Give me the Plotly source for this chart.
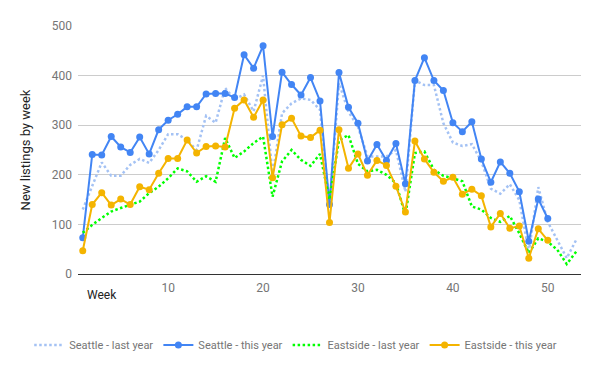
import plotly.graph_objects as go

weeks_last = list(range(1, 54))
weeks_this = list(range(1, 51))

seattle_last = [130, 176, 225, 198, 198, 220, 232, 224, 250, 282,
                282, 270, 250, 319, 305, 375, 352, 362, 328, 400,
                200, 324, 344, 354, 351, 331, 136, 385, 327, 297,
                237, 237, 237, 250, 166, 390, 381, 381, 304, 265,
                258, 262, 227, 172, 162, 181, 149, 45, 175, 105,
                69, 32, 69]

seattle_this = [73, 241, 240, 277, 256, 245, 276, 242, 291, 310,
                322, 337, 337, 363, 364, 364, 356, 442, 415, 460,
                277, 407, 382, 361, 396, 349, 140, 406, 336, 304,
                228, 261, 229, 263, 182, 390, 436, 390, 370, 305,
                287, 307, 232, 185, 226, 203, 166, 66, 151, 112]

eastside_last = [83, 99, 113, 126, 133, 140, 146, 163, 176, 193,
                 213, 207, 186, 197, 186, 274, 234, 247, 264, 277,
                 156, 227, 250, 230, 218, 242, 150, 270, 280, 222,
                 207, 210, 200, 183, 119, 244, 247, 210, 198, 193,
                 187, 136, 130, 113, 105, 117, 82, 42, 72, 65,
                 49, 20, 45]

eastside_this = [47, 140, 164, 139, 151, 140, 176, 170, 203, 233,
                 233, 270, 244, 257, 258, 256, 334, 351, 316, 351,
                 194, 301, 314, 278, 275, 290, 104, 291, 213, 242,
                 199, 229, 219, 177, 125, 268, 232, 205, 187, 195,
                 161, 171, 158, 95, 122, 92, 97, 32, 91, 68]

y_ticks = [0, 100, 200, 300, 400, 500]
x_ticks = [10, 20, 30, 40, 50]

BLUE = "#4285f4"
LIGHT_BLUE = "#a4c2f4"
GREEN = "#00ff00"
YELLOW = "#f4b400"

fig = go.Figure()
fig.add_trace(go.Scatter(x=weeks_last, y=seattle_last, name="Seattle - last year",
                         mode="lines", line=dict(color=LIGHT_BLUE, width=2.5, dash="2.5px,2.5px")))
fig.add_trace(go.Scatter(x=weeks_this, y=seattle_this, name="Seattle - this year",
                         mode="lines+markers", line=dict(color=BLUE, width=2),
                         marker=dict(color=BLUE, size=7)))
fig.add_trace(go.Scatter(x=weeks_last, y=eastside_last, name="Eastside - last year",
                         mode="lines", line=dict(color=GREEN, width=2.5, dash="2.5px,2.5px")))
fig.add_trace(go.Scatter(x=weeks_this, y=eastside_this, name="Eastside - this year",
                         mode="lines+markers", line=dict(color=YELLOW, width=2),
                         marker=dict(color=YELLOW, size=7)))

# page body has an 8px margin, so the figure is offset by 8px
fig.update_layout(
    width=592, height=363,
    margin=dict(l=70, r=19, t=18, b=97, autoexpand=False),
    plot_bgcolor="white", paper_bgcolor="white",
    font=dict(family="Roboto, Arial, sans-serif", size=12, color="#757575"),
    showlegend=True,
    legend=dict(orientation="h", x=-0.097, xanchor="left", y=-0.286, yanchor="middle",
                font=dict(size=11, color="#757575"), itemwidth=30, tracegroupgap=0),
    xaxis=dict(range=[0.5, 53.5], tickvals=x_ticks, showgrid=False, zeroline=False,
               showline=False, ticks="", ticklabelstandoff=5,
               tickfont=dict(size=12, color="#757575")),
    yaxis=dict(range=[0, 500], tickvals=y_ticks, showgrid=True, gridcolor="#cccccc",
               zeroline=True, zerolinecolor="#333333", zerolinewidth=1,
               ticks="", ticklabelstandoff=5, tickfont=dict(size=12, color="#757575"),
               title=dict(text="New listings by week", font=dict(size=13, color="#222222"),
                          standoff=18)),
    annotations=[dict(text="Week", xref="paper", yref="paper", x=0.047, y=0,
                      xanchor="center", yanchor="top", yshift=-12, showarrow=False,
                      font=dict(size=12, color="#222222"))],
)

fig.write_html("out.html")
